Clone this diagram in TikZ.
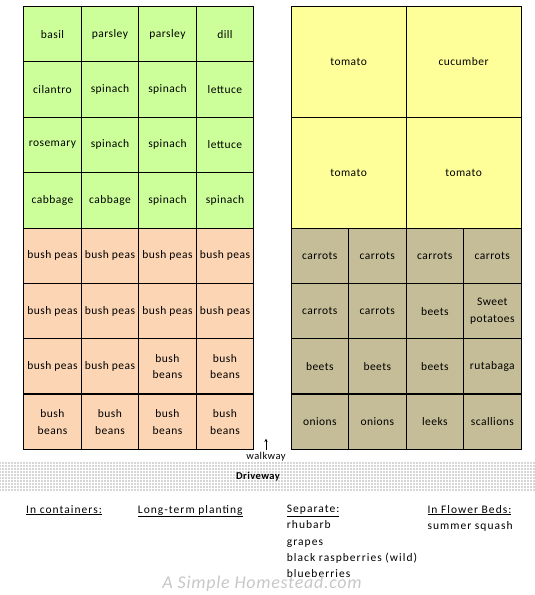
\documentclass[tikz,border=0pt]{standalone}
\usepackage{fontspec}
\setmainfont{Carlito}[LetterSpace=4]
\usetikzlibrary{patterns}

\definecolor{greenbed}{HTML}{CCFF99}
\definecolor{peachbed}{HTML}{FCD5B4}
\definecolor{yellowbed}{HTML}{FFFF99}
\definecolor{khakibed}{HTML}{C4BD97}

\pgfdeclarepatternformonly{drivedots}{\pgfqpoint{-1pt}{-1pt}}{\pgfqpoint{1pt}{1pt}}{\pgfqpoint{3pt}{3pt}}{%
  \pgfpathcircle{\pgfqpoint{0pt}{0pt}}{0.7pt}\pgfusepath{fill}}

\tikzset{
  bed/.style={draw=black, line width=0.8pt, inner sep=0pt, anchor=north west,
    minimum width=57.5pt, minimum height=55.4pt, align=center,
    font=\fontsize{11.5}{16.5}\selectfont},
  bigbed/.style={bed, fill=yellowbed, minimum width=115pt, minimum height=110.8pt},
  note/.style={anchor=north west, inner sep=0pt, align=left,
    font=\fontsize{11.5}{16.2}\selectfont\addfontfeatures{LetterSpace=9}}
}

\begin{document}
\begin{tikzpicture}[x=1pt,y=-1pt]
\useasboundingbox (0,0) rectangle (535,595);

% left garden
\foreach \plant [count=\k from 0] in {basil,parsley,parsley,dill,
    cilantro,spinach,spinach,lettuce,rosemary,spinach,spinach,lettuce,
    cabbage,cabbage,spinach,spinach}{
  \pgfmathtruncatemacro\row{\k/4}
  \pgfmathtruncatemacro\col{mod(\k,4)}
  \node[bed, fill=greenbed] (lg\k) at (23.3+57.5*\col, 6+55.4*\row) {\plant};
}
\foreach \plant [count=\k from 0] in {bush peas,bush peas,bush peas,bush peas,
    bush peas,bush peas,bush peas,bush peas,
    bush peas,bush peas,bush\\beans,bush\\beans,
    bush\\beans,bush\\beans,bush\\beans,bush\\beans}{
  \pgfmathtruncatemacro\row{\k/4+4}
  \pgfmathtruncatemacro\col{mod(\k,4)}
  \node[bed, fill=peachbed] (lp\k) at (23.3+57.5*\col, 6+55.4*\row) {\plant};
}
\draw[line width=1.8pt] (lp12.north west) -- (lp15.north east);

% right garden
\node[bigbed] (rt0) at (290.7,6) {tomato};
\node[bigbed] (rt1) at (405.7,6) {cucumber};
\node[bigbed] (rt2) at (290.7,116.8) {tomato};
\node[bigbed] (rt3) at (405.7,116.8) {tomato};
\foreach \plant [count=\k from 0] in {carrots,carrots,carrots,carrots,
    carrots,carrots,beets,Sweet\\potatoes,
    beets,beets,beets,rutabaga,
    onions,onions,leeks,scallions}{
  \pgfmathtruncatemacro\row{\k/4+4}
  \pgfmathtruncatemacro\col{mod(\k,4)}
  \node[bed, fill=khakibed] (rk\k) at (290.7+57.5*\col, 6+55.4*\row) {\plant};
}
\draw[line width=1.8pt] (rk12.north west) -- (rk15.north east);

% walkway and driveway
\fill[pattern=drivedots, pattern color=black!70] (0,461.7) rectangle (535,491.7);
\node[font=\fontsize{10.5}{12}\selectfont, inner sep=0pt] (walk) at (266,457) {walkway};
\coordinate (walktop) at (266,438.5);
\draw[->, >=stealth, line width=0.6pt] (walk.north) ++(0,-2) -- (walktop);
\node[font=\bfseries\fontsize{10.5}{12}\selectfont, inner sep=0pt] (drive) at (258,476.7) {Driveway};

% notes
\node[note] (cont) at (26,505) {\underline{In containers:}};
\node[note] (longterm) at (137.7,505) {\underline{Long-term planting}};
\node[note] (sep) at (286.7,505) {\underline{Separate:}\\rhubarb\\grapes\\black raspberries (wild)\\blueberries};
\node[note] (flower) at (427.3,505) {\underline{In Flower Beds:}\\summer squash};
\node[font=\itshape\fontsize{18}{20}\selectfont, text=black!22, inner sep=0pt] (wmark) at (262,584) {A Simple Homestead.com};
\end{tikzpicture}
\end{document}
